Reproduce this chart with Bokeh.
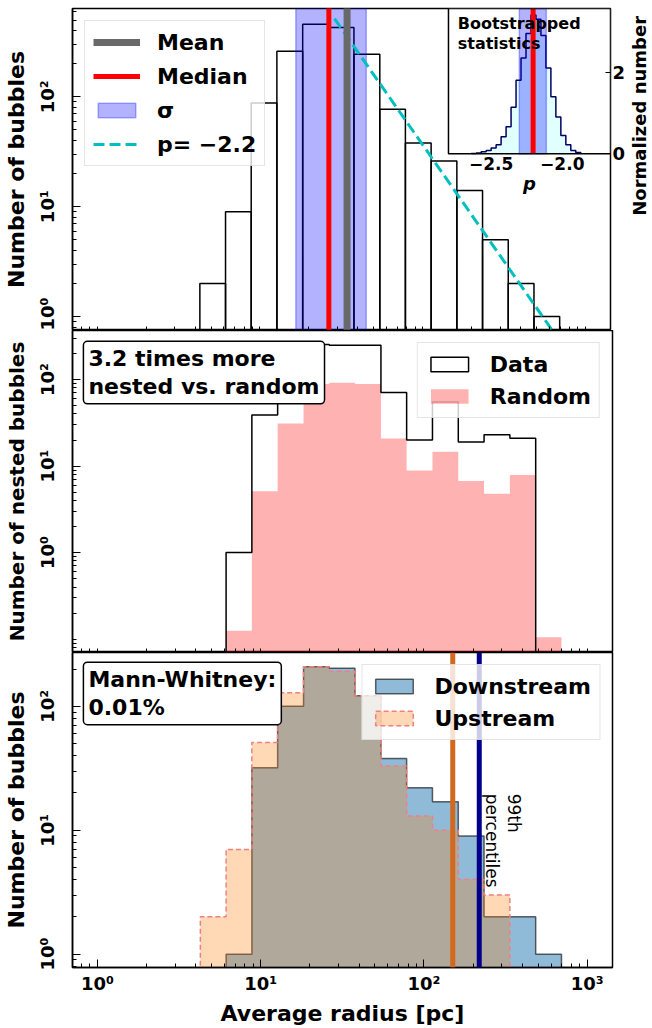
import math
from bokeh.plotting import figure
from bokeh.models import (Range1d, FixedTicker, CustomJSTickFormatter, Legend, LegendItem,
                          Label, Span, LinearAxis, LinearScale)
from bokeh.layouts import column, row
from bokeh.embed import file_html
from bokeh.resources import INLINE
from bokeh.core.properties import value

FONT = "DejaVu Sans"

# ---------------- data ----------------
# shared logarithmic bin edges [pc]
bin_edges = [4.27, 6.14, 8.83, 12.7, 18.3, 26.3, 37.8, 54.5, 78.3, 112.7, 162.2, 233.3, 335.7, 483.1, 695.0]

# top panel: all bubbles (bins 0..13)
all_counts = [2, 9, 88, 260, 458, 427, 244, 77, 38, 26, 14, 5, 2, 1]
mean_radius = 34.3
median_radius = 26.5
sigma_range = [16.6, 45.0]
fit_x = [28.7, 700.0]
fit_y = [516.0, 0.59]

# inset: bootstrapped power-law index
boot_edges = [-2.64, -2.605, -2.57, -2.535, -2.50, -2.465, -2.43, -2.395, -2.36, -2.325, -2.29,
              -2.255, -2.22, -2.185, -2.15, -2.115, -2.08, -2.045, -2.01, -1.975, -1.94,
              -1.905, -1.87, -1.835]
boot_density = [0.01, 0.02, 0.05, 0.08, 0.14, 0.22, 0.42, 0.66, 1.14, 1.80, 2.35, 2.95, 3.40,
                3.30, 2.90, 2.10, 1.40, 0.90, 0.45, 0.22, 0.08, 0.03]
boot_median = -2.205
boot_sigma = [-2.302, -2.112]
inset_xlim = [-2.80, -1.661]
inset_ylim = [0.0, 3.561]

# middle panel: nested bubbles (data bins 1..12, random bins 1..13)
nested_data = [1, 39, 252, 255, 250, 250, 71, 20, 55, 19, 23, 21]
nested_random = [0.125, 5.1, 31, 89, 92, 89, 20.8, 8.9, 14.6, 6.7, 4.8, 7.9, 0.105]

# bottom panel: upstream (bins 0..11) / downstream (bins 1..13)
upstream = [2, 7, 51, 129, 209, 192, 122, 33, 13, 10, 4, 3]
downstream = [1, 32, 100, 209, 203, 122, 38, 22, 17, 9, 2, 2, 1]
pct99_up = 150
pct99_down = 218

x_ticks = [1, 10, 100, 1000]
x_minor = [m * 10 ** k for k in range(-1, 4) for m in range(2, 10)]


def step_outline(edges, vals, base):
    xs = [edges[0]]
    ys = [base]
    for i, v in enumerate(vals):
        xs += [edges[i], edges[i + 1]]
        ys += [v, v]
    xs.append(edges[len(vals)])
    ys.append(base)
    return xs, ys


sup = CustomJSTickFormatter(code="""
const s = {"-":"\u207b","0":"\u2070","1":"\u00b9","2":"\u00b2","3":"\u00b3","4":"\u2074",
           "5":"\u2075","6":"\u2076","7":"\u2077","8":"\u2078","9":"\u2079"};
const e = Math.round(Math.log10(tick));
return "10" + String(e).split("").map(c => s[c]).join("");
""")

xr = Range1d(0.704, 1427)


def make_fig(width, height, yr, yticks, yminor, ylabel, ylabel_size, top_border, right_border,
             bottom_border, show_x):
    p = figure(width=width, height=height, x_axis_type="log", y_axis_type="log",
               x_range=xr, y_range=Range1d(*yr), output_backend="svg",
               toolbar_location=None, min_border_left=70, min_border_right=right_border,
               min_border_top=top_border, min_border_bottom=bottom_border)
    p.grid.visible = False
    p.background_fill_color = "white"
    p.border_fill_color = "white"
    p.outline_line_color = "black"
    p.outline_line_width = 1.5
    p.outline_line_alpha = 1.0
    ya = p.yaxis[0]
    ya.ticker = FixedTicker(ticks=yticks, minor_ticks=yminor)
    ya.formatter = sup
    ya.major_tick_in = 8
    ya.major_tick_out = 0
    ya.minor_tick_in = 4
    ya.minor_tick_out = 0
    ya.axis_line_width = 1.5
    ya.major_label_orientation = "vertical"
    ya.major_label_standoff = 14
    ya.major_label_text_font = FONT
    ya.major_label_text_font_style = "bold"
    ya.major_label_text_font_size = "18px"
    ya.major_label_text_color = "black"
    ya.axis_label = ylabel
    ya.axis_label_standoff = 6
    ya.axis_label_text_font = FONT
    ya.axis_label_text_font_style = "bold"
    ya.axis_label_text_font_size = ylabel_size
    ya.axis_label_text_color = "black"
    xa = p.xaxis[0]
    xa.major_tick_in = 8
    xa.major_tick_out = 0
    xa.minor_tick_in = 4
    xa.minor_tick_out = 0
    xa.axis_line_width = 1.5
    if show_x:
        xa.ticker = FixedTicker(ticks=x_ticks, minor_ticks=x_minor)
        xa.formatter = sup
        xa.major_label_standoff = 5
        xa.major_label_text_font = FONT
        xa.major_label_text_font_style = "bold"
        xa.major_label_text_font_size = "18px"
        xa.major_label_text_color = "black"
        xa.axis_label = "Average radius [pc]"
        xa.axis_label_standoff = 4
        xa.axis_label_text_font = FONT
        xa.axis_label_text_font_style = "bold"
        xa.axis_label_text_font_size = "22px"
        xa.axis_label_text_color = "black"
    else:
        # shared x axis: tick marks only, no labels
        xa.ticker = FixedTicker(ticks=[], minor_ticks=x_minor + x_ticks)
        xa.major_label_standoff = 0
    return p


def style_legend(leg, location, glyph_h):
    leg.location = location
    leg.margin = 12
    leg.padding = 8
    leg.spacing = 8
    leg.glyph_width = 47
    leg.glyph_height = glyph_h
    leg.label_height = 26
    leg.label_standoff = 17
    leg.label_text_font = FONT
    leg.label_text_font_style = "bold"
    leg.label_text_font_size = "22px"
    leg.label_text_color = "black"
    leg.background_fill_alpha = 0.8
    leg.border_line_color = "#cccccc"
    leg.border_line_width = 1


def box_label(x, y, text):
    return Label(x=x, y=y, text=text, text_font=FONT, text_font_style="bold",
                 text_font_size="22px", text_align="left", text_baseline="top",
                 text_line_height=1.1, text_color="black", background_fill_color="white",
                 background_fill_alpha=1.0, border_line_color="black",
                 border_line_width=1.5, padding=5, border_radius=4)


def minor_decades(ks):
    return [m * 10 ** k for k in ks for m in range(2, 10)]


# ---------------- top panel ----------------
p1 = make_fig(628, 330, (0.746, 637), [1, 10, 100], minor_decades([-1, 0, 1, 2]),
              "Number of bubbles", "22px", 8, 16, 0, False)
p1.extra_x_ranges = {"ix": Range1d(-5.443, inset_xlim[1])}
p1.extra_y_ranges = {"iy": Range1d(-4.331, inset_ylim[1])}
p1.extra_x_scales = {"ix": LinearScale()}
p1.extra_y_scales = {"iy": LinearScale()}

p1.quad(left=bin_edges[:-1], right=bin_edges[1:], bottom=1e-3, top=all_counts,
        fill_color=None, line_color="black", line_width=1.5)
r_sig = p1.quad(left=[sigma_range[0]], right=[sigma_range[1]], bottom=[1e-3], top=[1e5],
                fill_color="blue", fill_alpha=0.3, line_color="blue", line_alpha=0.3,
                line_width=1.5)
r_fit = p1.line(fit_x, fit_y, line_color="#00bfbf", line_width=3, line_dash="11 5")
r_med = p1.line([median_radius, median_radius], [1e-3, 1e5], line_color="red", line_width=5)
r_mean = p1.line([mean_radius, mean_radius], [1e-3, 1e5], line_color="dimgray", line_width=7)

# inset
IN = dict(x_range_name="ix", y_range_name="iy")
p1.quad(left=[inset_xlim[0]], right=[inset_xlim[1]], bottom=[inset_ylim[0]], top=[inset_ylim[1]],
        fill_color="white", line_color=None, **IN)
p1.quad(left=boot_edges[:-1], right=boot_edges[1:], bottom=0, top=boot_density,
        fill_color="#e0ffff", line_color=None, **IN)
bx, by = step_outline(boot_edges, boot_density, 0.0)
p1.line(bx, by, line_color="#000060", line_width=1.5, **IN)
p1.quad(left=[boot_sigma[0]], right=[boot_sigma[1]], bottom=[inset_ylim[0]], top=[inset_ylim[1]],
        fill_color="blue", fill_alpha=0.3, line_color="blue", line_alpha=0.3, line_width=1.5, **IN)
p1.line([boot_median, boot_median], inset_ylim, line_color="red", line_width=5, **IN)
p1.quad(left=[inset_xlim[0]], right=[inset_xlim[1]], bottom=[inset_ylim[0]], top=[inset_ylim[1]],
        fill_color=None, line_color="black", line_width=1.5, **IN)
p1.text(x=[-2.5, -2.0], y=[-0.08, -0.08], text=["\u22122.5", "\u22122.0"],
        text_font=value(FONT), text_font_style="bold", text_font_size="17px",
        text_align="center", text_baseline="top", text_color="black", **IN)
p1.text(x=[-2.23], y=[-0.72], text=["p"], text_font=value(FONT), text_font_style="bold italic",
        text_font_size="18px", text_align="center", text_baseline="middle", text_color="black", **IN)
p1.text(x=[-2.735], y=[3.42], text=["Bootstrapped\nstatistics"], text_font=value(FONT),
        text_font_style="bold", text_font_size="16px", text_align="left", text_baseline="top",
        text_line_height=1.05, text_color="black", **IN)

rax = LinearAxis(y_range_name="iy", ticker=FixedTicker(ticks=[0, 2]))
rax.major_tick_in = 5
rax.major_tick_out = 0
rax.minor_tick_in = 0
rax.minor_tick_out = 0
rax.axis_line_color = None
rax.major_label_standoff = 2
rax.major_label_text_font = FONT
rax.major_label_text_font_style = "bold"
rax.major_label_text_font_size = "18px"
rax.major_label_text_color = "black"
p1.add_layout(rax, "right")

leg1 = Legend(items=[LegendItem(label="Mean", renderers=[r_mean]),
                     LegendItem(label="Median", renderers=[r_med]),
                     LegendItem(label="\u03c3", renderers=[r_sig]),
                     LegendItem(label="p= \u22122.2", renderers=[r_fit])])
style_legend(leg1, "top_left", 18)
p1.add_layout(leg1)

# narrow strip carrying the inset's y-axis title, right of the top panel
pr = figure(width=24, height=330, x_range=Range1d(0, 1), y_range=Range1d(0, 330),
            output_backend="svg", toolbar_location=None, x_axis_location=None,
            y_axis_location=None, min_border=0)
pr.grid.visible = False
pr.outline_line_color = None
pr.background_fill_color = "white"
pr.border_fill_color = "white"
pr.text(x=[0.45], y=[220], text=["Normalized number"], angle=math.pi / 2,
        text_font=value(FONT), text_font_style="bold", text_font_size="18px",
        text_align="center", text_baseline="middle", text_color="black")

# ---------------- middle panel ----------------
p2 = make_fig(652, 322, (0.070, 369), [1, 10, 100], [0.1] + minor_decades([-2, -1, 0, 1, 2]),
              "Number of nested bubbles", "20px", 0, 40, 0, False)
rx, ry = step_outline(bin_edges[1:], nested_random, 1e-3)
r_rand = p2.patch(rx, ry, fill_color="red", fill_alpha=0.3, line_color=None)
dx, dy = step_outline(bin_edges[1:], nested_data, 1e-3)
r_data = p2.patch(dx, dy, fill_color=None, line_color="black", line_width=1.5)
p2.add_layout(box_label(0.821, 277, "3.2 times more\nnested vs. random"))
leg2 = Legend(items=[LegendItem(label="Data", renderers=[r_data]),
                     LegendItem(label="Random", renderers=[r_rand])])
style_legend(leg2, "top_right", 18)
leg2.spacing = 6
p2.add_layout(leg2)

# ---------------- bottom panel ----------------
p3 = make_fig(652, 376, (0.78, 272), [1, 10, 100], minor_decades([-1, 0, 1, 2]),
              "Number of bubbles", "22px", 0, 40, 55, True)
ddx, ddy = step_outline(bin_edges[1:], downstream, 1e-3)
r_down = p3.patch(ddx, ddy, fill_color="#1f77b4", fill_alpha=0.5, line_color="black",
                  line_alpha=0.6, line_width=1.5)
ux, uy = step_outline(bin_edges, upstream, 1e-3)
r_up = p3.patch(ux, uy, fill_color="#ff7f0e", fill_alpha=0.3, line_color="#f08080",
                line_width=1.5, line_dash="5 3")
p3.add_layout(Span(location=pct99_up, dimension="height", line_color="chocolate", line_width=5))
p3.add_layout(Span(location=pct99_down, dimension="height", line_color="darkblue", line_width=5))
p3.add_layout(Label(x=411, y=19.7, text="99th\npercentiles", angle=-math.pi / 2,
                    text_align="left", text_baseline="top", text_font=FONT,
                    text_font_size="17px", text_line_height=1.1, text_color="black"))
p3.add_layout(box_label(0.821, 227, "Mann-Whitney:\n0.01%"))
leg3 = Legend(items=[LegendItem(label="Downstream", renderers=[r_down]),
                     LegendItem(label="Upstream", renderers=[r_up])])
style_legend(leg3, "top_right", 18)
leg3.spacing = 6
p3.add_layout(leg3)

layout = column(row(p1, pr, spacing=0), p2, p3, spacing=0)
open("out.html", "w").write(file_html(layout, INLINE))
